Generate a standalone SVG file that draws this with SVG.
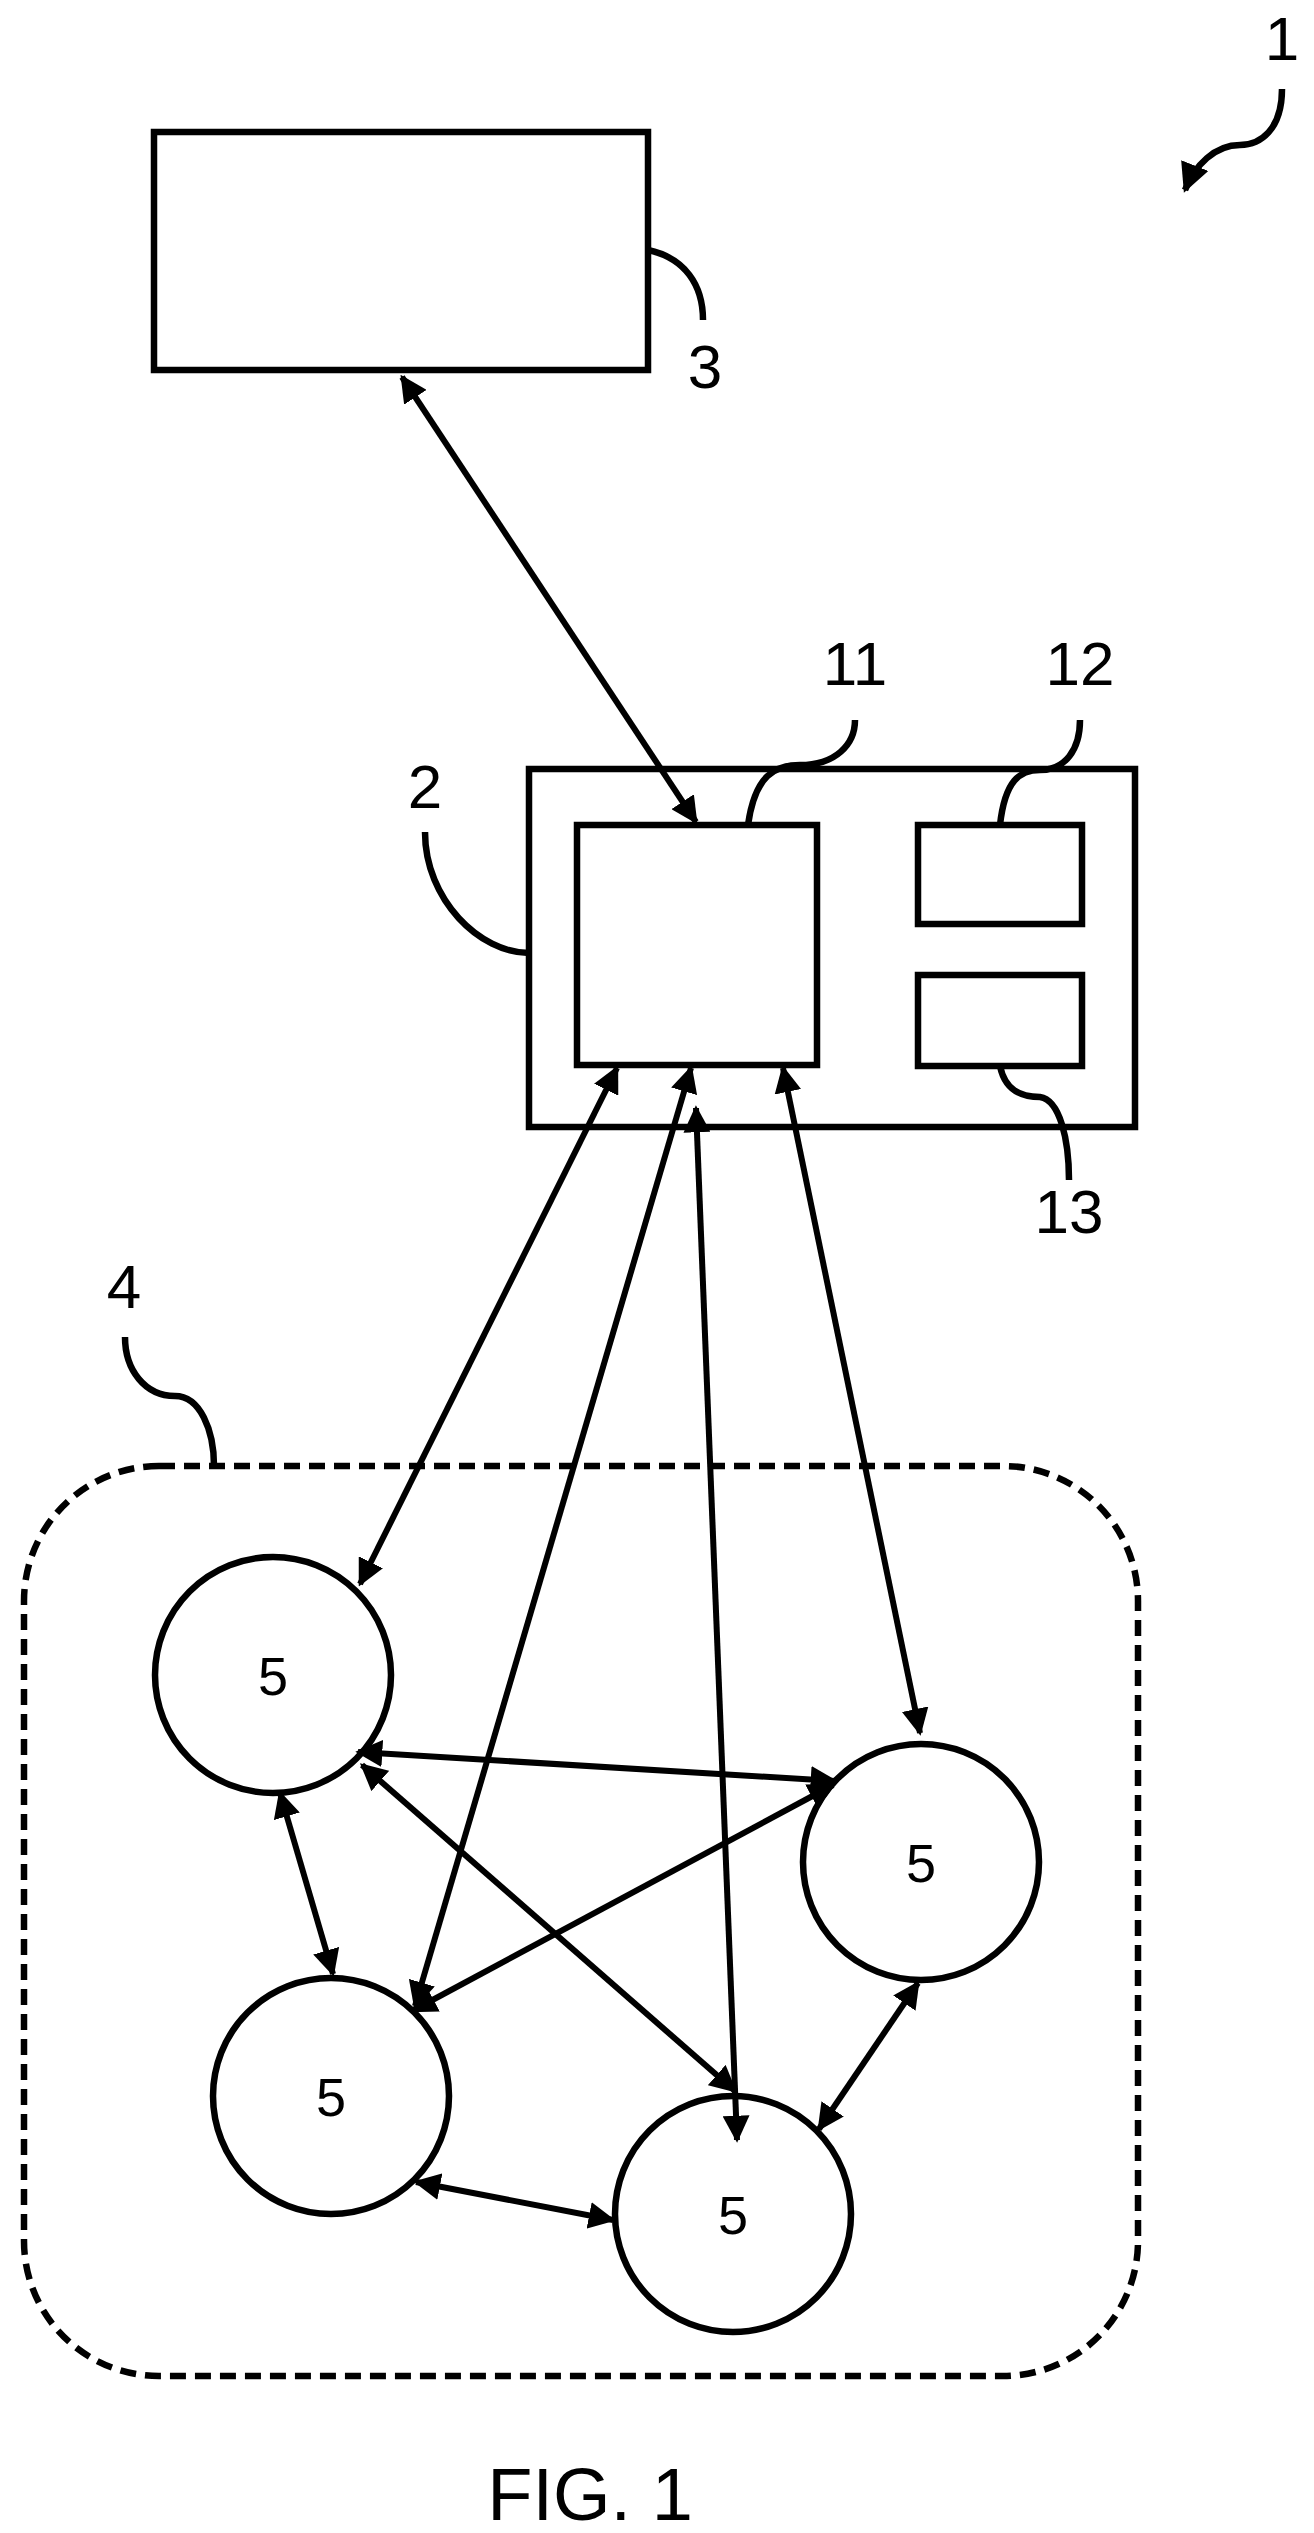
<svg xmlns="http://www.w3.org/2000/svg" width="1314" height="2533" viewBox="0 0 1314 2533">
<style>
.b{fill:none;stroke:#000;stroke-width:6.5}
.t{font-family:"Liberation Sans",Arial,sans-serif;fill:#000}
.c{stroke:#000;stroke-width:6;fill:none;marker-start:url(#a);marker-end:url(#a)}
</style>
<defs>
<marker id="a" viewBox="0 0 10 10" refX="9" refY="5" markerWidth="4.5" markerHeight="4.5" orient="auto-start-reverse" markerUnits="strokeWidth"><path d="M0,0 L10,5 L0,10 Z" fill="#000"/></marker>
</defs>
<rect width="1314" height="2533" fill="#fff"/>
<g id="n1"><text class="t" x="1282" y="60" font-size="62" text-anchor="middle">1</text>
<path class="b" d="M1282,89 C1282,130 1260,145 1240,145 C1215,145 1195,165 1185,190" marker-end="url(#a)"/></g>
<g id="n3"><rect class="b" x="154" y="132" width="494" height="238"/>
<path class="b" d="M648,250 C685,258 703,285 703,320"/><text class="t" x="705" y="388" font-size="62" text-anchor="middle">3</text></g>
<g id="n2"><rect class="b" x="529" y="769" width="606" height="358"/>
<path class="b" d="M425,832 C425,900 480,953 529,953"/><text class="t" x="425" y="808" font-size="62" text-anchor="middle">2</text></g>
<g id="n11"><rect class="b" x="577" y="825" width="240" height="240"/>
<path class="b" d="M748,825 C755,775 775,765 800,765 C835,765 855,745 855,720"/><text class="t" x="855" y="685" font-size="62" text-anchor="middle">11</text></g>
<g id="n12"><rect class="b" x="918" y="825" width="164" height="99"/>
<path class="b" d="M1000,825 C1005,780 1020,770 1040,770 C1065,770 1080,750 1080,720"/><text class="t" x="1080" y="685" font-size="62" text-anchor="middle">12</text></g>
<g id="n13"><rect class="b" x="918" y="975" width="164" height="91"/>
<path class="b" d="M1000,1066 C1005,1090 1020,1097 1040,1097 C1060,1100 1069,1140 1069,1180"/><text class="t" x="1069" y="1233" font-size="62" text-anchor="middle">13</text></g>
<g id="n4"><rect x="24" y="1466" width="1114" height="910" rx="135" fill="none" stroke="#000" stroke-width="6.5" stroke-dasharray="16,9"/>
<path class="b" d="M125,1337 C125,1370 145,1396 175,1396 C200,1396 214,1430 214,1466"/><text class="t" x="124" y="1308" font-size="62" text-anchor="middle">4</text></g>
<g id="c1"><circle class="b" cx="273" cy="1675" r="118"/><text class="t" x="273" y="1695" font-size="54" text-anchor="middle">5</text></g>
<g id="c2"><circle class="b" cx="921" cy="1862" r="118"/><text class="t" x="921" y="1882" font-size="54" text-anchor="middle">5</text></g>
<g id="c3"><circle class="b" cx="331" cy="2096" r="118"/><text class="t" x="331" y="2116" font-size="54" text-anchor="middle">5</text></g>
<g id="c4"><circle class="b" cx="733" cy="2214" r="118"/><text class="t" x="733" y="2234" font-size="54" text-anchor="middle">5</text></g>
<g id="connectors">
<line class="c" x1="402" y1="377" x2="696" y2="822"/>
<line class="c" x1="617" y1="1068" x2="360" y2="1584"/>
<line class="c" x1="691" y1="1068" x2="415" y2="2006"/>
<line class="c" x1="696" y1="1108" x2="737" y2="2140"/>
<line class="c" x1="783" y1="1068" x2="920" y2="1733"/>
<line class="c" x1="358" y1="1752" x2="835" y2="1781"/>
<line class="c" x1="833" y1="1785" x2="412" y2="2011"/>
<line class="c" x1="362" y1="1765" x2="735" y2="2091"/>
<line class="c" x1="280" y1="1793" x2="333" y2="1974"/>
<line class="c" x1="918" y1="1983" x2="819" y2="2129"/>
<line class="c" x1="416" y1="2182" x2="613" y2="2220"/>
</g>
<text class="t" x="590" y="2520" font-size="74" text-anchor="middle">FIG. 1</text>
</svg>
